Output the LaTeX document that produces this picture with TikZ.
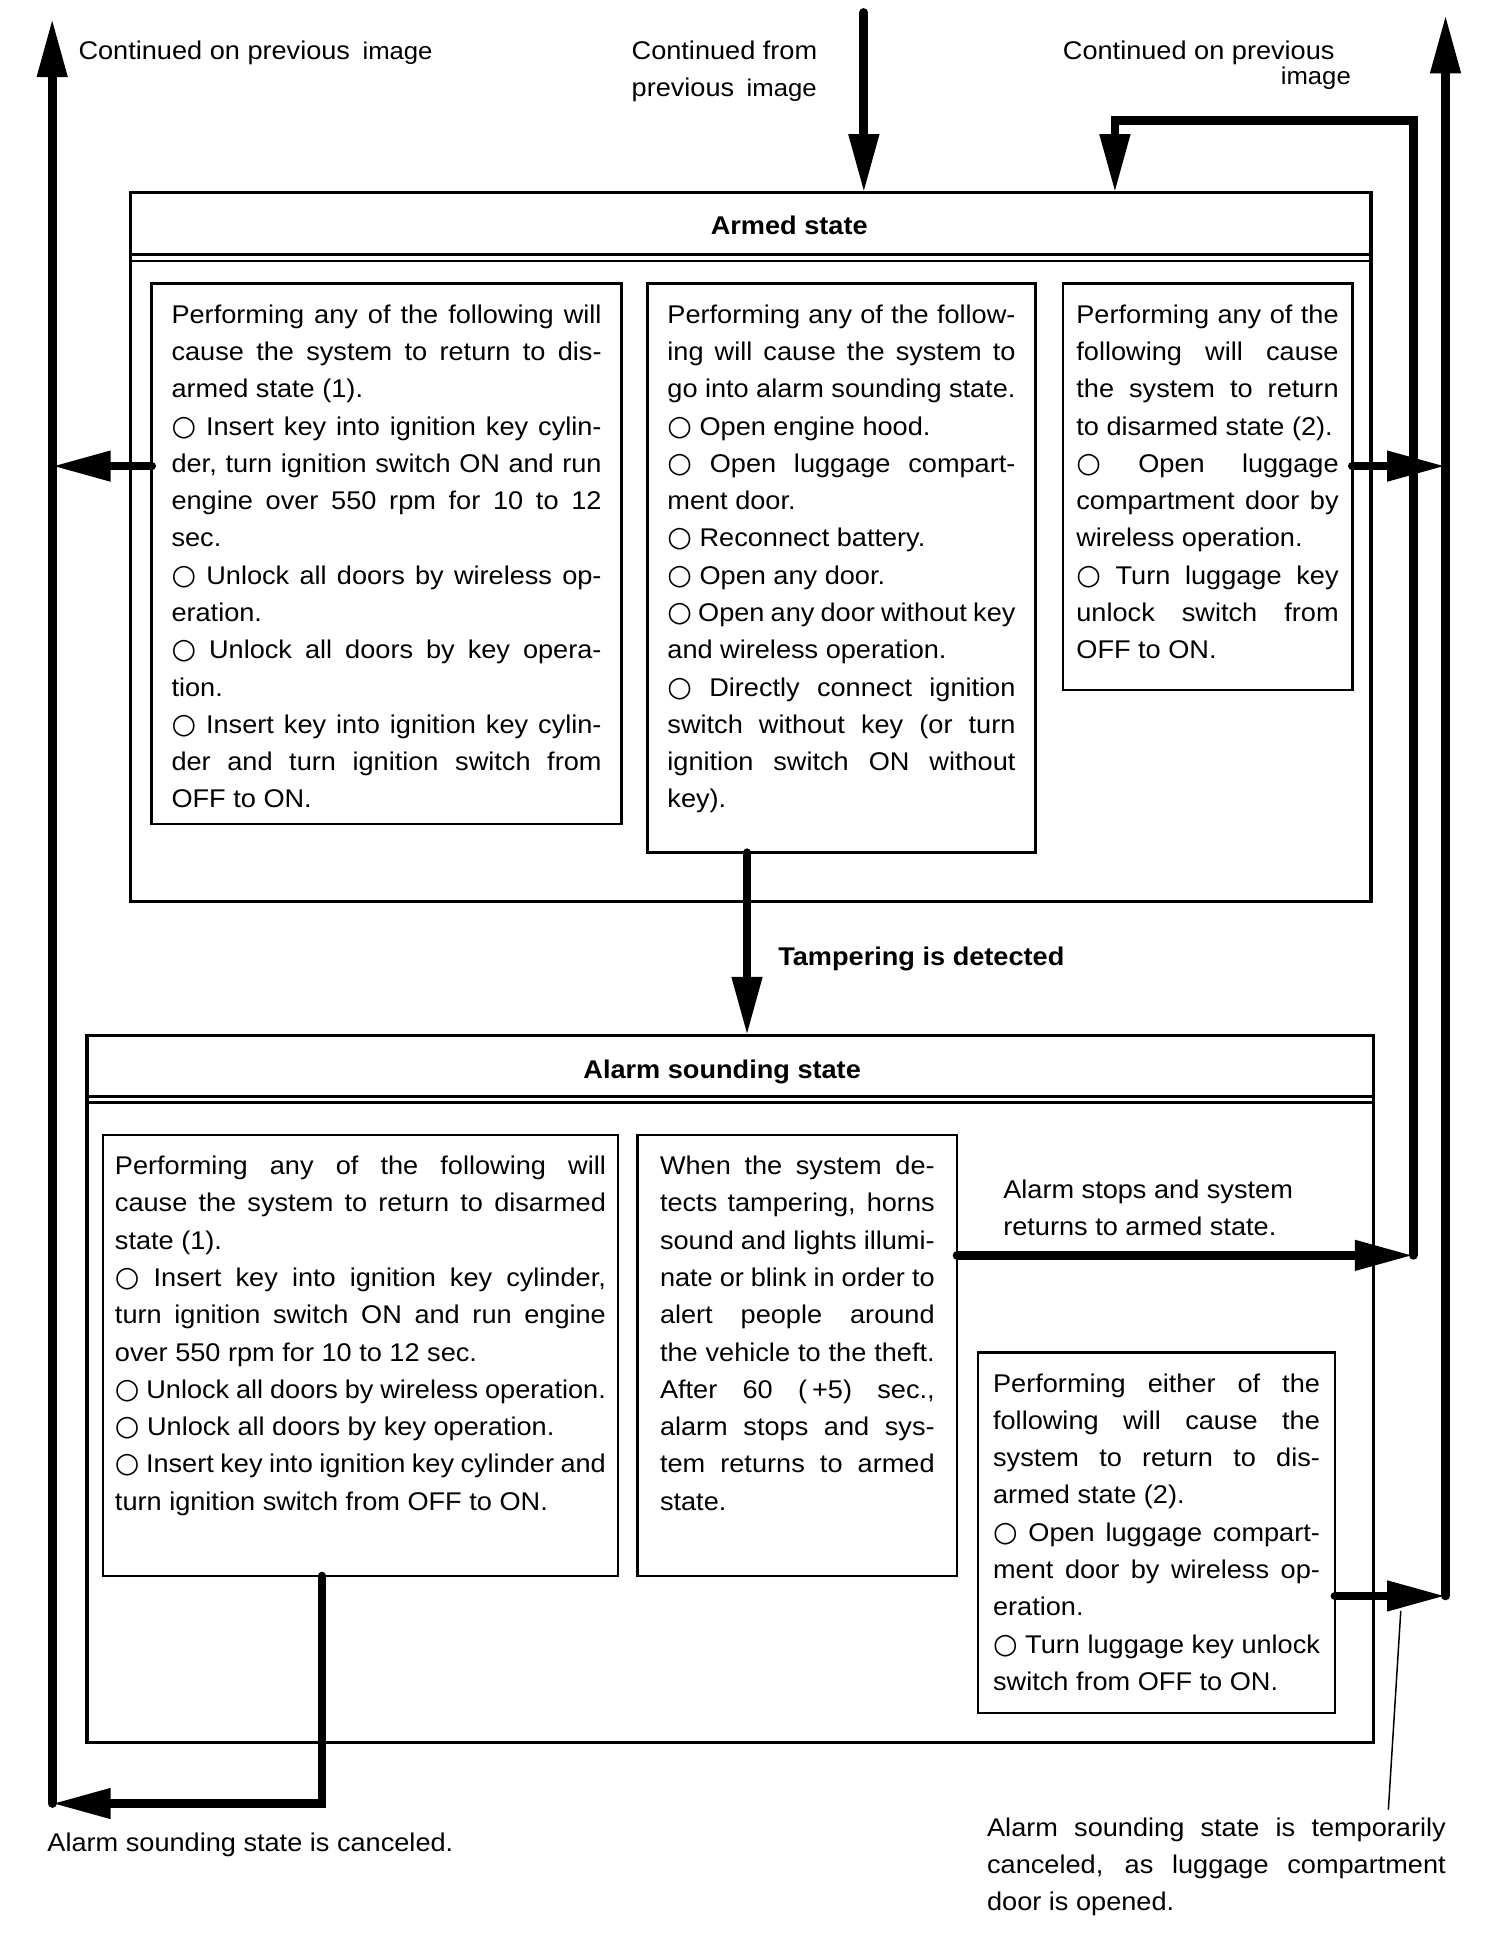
\documentclass[tikz,border=0pt]{standalone}
\usepackage{fontspec}
\setmainfont{Liberation Sans}[FakeStretch=1.06]
\newfontfamily\ringfont{DejaVu Sans}[Scale=1.1]
\usetikzlibrary{arrows.meta}

\newcommand{\bodyfont}{\fontsize{20.6}{30}\selectfont}
\newcommand{\smallfont}{\fontsize{19.5}{20}\selectfont}
\newcommand{\circmark}{{\ringfont ○}}
\newcommand{\boxpara}[3]{\begin{minipage}[t][#2pt][t]{#1pt}\strut#3\end{minipage}}
\tolerance=10000 \hyphenpenalty=10000 \hbadness=10000 \vbadness=10000
\hfuzz=20pt \vfuzz=40pt

\tikzset{
  panel/.style={draw, line width=2.6pt, anchor=north west, inner sep=0pt, outer sep=0pt},
  cellbox/.style={draw, line width=1.9pt, anchor=north west, inner ysep=11pt, outer sep=0pt},
  flow/.style={line width=7pt, line cap=round, -{Triangle[length=47pt,width=23pt]}},
  leader/.style={line width=1.2pt},
  note/.style={inner sep=0pt, anchor=base west}
}

\begin{document}
\begin{tikzpicture}[x=1pt, y=-1pt, font=\bodyfont]
          \useasboundingbox (0,0) rectangle (1210,1556);

          % armed state
          \node[panel, minimum width=998pt, minimum height=570pt] (armed) at (105,155) {};
          \node[anchor=base, font=\bodyfont\bfseries] (armedT) at (635,189) {Armed state};
          \draw[line width=2.2pt] (armed.west |- 0,205) -- (armed.east |- 0,205);
          \draw[line width=2.2pt] (armed.west |- 0,210) -- (armed.east |- 0,210);

          \node[cellbox, inner xsep=16pt] (armL) at (122,228) {\boxpara{346}{413}{%
            Performing any of the following will\linebreak cause the system to return to dis-\linebreak armed state (1).\par
            \circmark\ Insert key into ignition key cylin-\linebreak der, turn ignition switch ON and run\linebreak engine over 550 rpm for 10 to 12\linebreak sec.\par
            \circmark\ Unlock all doors by wireless op-\linebreak eration.\par
            \circmark\ Unlock all doors by key opera-\linebreak tion.\par
            \circmark\ Insert key into ignition key cylin-\linebreak der and turn ignition switch from\linebreak OFF to ON.}};

          \node[cellbox, inner xsep=16pt] (armM) at (521,228) {\boxpara{280}{436}{%
            Performing any of the follow-\linebreak ing will cause the system to\linebreak go into alarm sounding state.\par
            \circmark\ Open engine hood.\par
            \circmark\ Open luggage compart-\linebreak ment door.\par
            \circmark\ Reconnect battery.\par
            \circmark\ Open any door.\par
            \circmark\ Open any door without key\linebreak and wireless operation.\par
            \circmark\ Directly connect ignition\linebreak switch without key (or turn\linebreak ignition switch ON without\linebreak key).}};

          \node[cellbox, inner xsep=11pt] (armR) at (855,228) {\boxpara{211}{305}{%
            Performing any of the\linebreak following will cause\linebreak the system to return\linebreak to disarmed state (2).\par
            \circmark\ Open luggage\linebreak compartment door by\linebreak wireless operation.\par
            \circmark\ Turn luggage key\linebreak unlock switch from\linebreak OFF to ON.}};

          % alarm sounding state
          \node[panel, minimum width=1035pt, minimum height=569pt] (alarm) at (70,833) {};
          \node[anchor=base, font=\bodyfont\bfseries] (alarmT) at (581,868) {Alarm sounding state};
          \draw[line width=2.2pt] (alarm.west |- 0,882) -- (alarm.east |- 0,882);
          \draw[line width=2.2pt] (alarm.west |- 0,887) -- (alarm.east |- 0,887);

          \node[cellbox, inner xsep=9.5pt] (almL) at (83,913) {\boxpara{395}{333}{%
            Performing any of the following will\linebreak cause the system to return to disarmed\linebreak state (1).\par
            \circmark\ Insert key into ignition key cylinder,\linebreak turn ignition switch ON and run engine\linebreak over 550 rpm for 10 to 12 sec.\par
            \circmark\ Unlock all doors by wireless operation.\par
            \circmark\ Unlock all doors by key operation.\par
            \circmark\ Insert key into ignition key cylinder and\linebreak turn ignition switch from OFF to ON.}};

          \node[cellbox, inner xsep=18pt] (almM) at (513,913) {\boxpara{221}{333}{%
            When the system de-\linebreak tects tampering, horns\linebreak sound and lights illumi-\linebreak nate or blink in order to\linebreak alert people around\linebreak the vehicle to the theft.\linebreak After 60 (\hspace{4pt}+5) sec.,\linebreak alarm stops and sys-\linebreak tem returns to armed\linebreak state.}};

          \node[cellbox, inner xsep=12pt] (almR) at (787,1088) {\boxpara{263}{268}{%
            Performing either of the\linebreak following will cause the\linebreak system to return to dis-\linebreak armed state (2).\par
            \circmark\ Open luggage compart-\linebreak ment door by wireless op-\linebreak eration.\par
            \circmark\ Turn luggage key unlock\linebreak switch from OFF to ON.}};

          % texts outside the boxes
          \node[note] (contL) at (63,48) {Continued on previous\hspace{10pt}{\smallfont image}};
          \node[note] (contM) at (508,48) {Continued from};
          \node[note] (contM2) at (508,78) {previous\hspace{10pt}{\smallfont image}};
          \node[note] (contR) at (855,48) {Continued on previous};
          \node[note, anchor=base east, font=\smallfont] (contR2) at (1087,68) {image};
          \node[note, font=\bodyfont\bfseries] (tampL) at (626,777) {Tampering is detected};
          \node[anchor=north west, inner sep=0pt] (stopL) at (807,943)
                {\begin{minipage}[t]{300pt}\raggedright\strut Alarm stops and system\\returns to armed state.\end{minipage}};
          \node[note] (cancelL) at (38,1490) {Alarm sounding state is canceled.};
          \node[anchor=north west, inner sep=0pt] (tmpL) at (794,1456)
                {\begin{minipage}[t]{369pt}\strut Alarm sounding state is temporarily\linebreak canceled, as luggage compartment\linebreak door is opened.\end{minipage}};

          % connectors
          \coordinate (inTop) at (695,10);
          \coordinate (lftTop) at (42,15);
          \coordinate (lftBot) at (42,1451);
          \coordinate (rgtTop) at (1163,12);
          \coordinate (rgtBot) at (1163,1284);
          \coordinate (loopBot) at (1137,1010);
          \coordinate (loopIn) at (897,97);
          \coordinate (sideRow) at (0,375);
          \coordinate (tampX) at (601,0);
          \coordinate (cancelX) at (259,0);
          \coordinate (leadTop) at (1127,1296);
          \coordinate (leadBot) at (1117,1456);

          \draw[flow] (inTop) -- (inTop |- armed.north);
          \draw[flow] (loopBot) |- (loopIn) -- (loopIn |- armed.north);
          \draw[flow] (armL.west |- sideRow) -- (lftTop |- sideRow);
          \draw[flow] (armR.east |- sideRow) -- (rgtTop |- sideRow);
          \draw[flow] (armM.south -| tampX) -- (tampX |- alarm.north);
          \draw[flow] (almM.east |- loopBot) -- (loopBot);
          \draw[flow] (almR.east |- rgtBot) -- (rgtBot);
          \draw[flow] (almL.south -| cancelX) |- (lftBot);
          \draw[flow] (lftBot) -- (lftTop);
          \draw[flow] (rgtBot) -- (rgtTop);
          \draw[leader] (leadTop) -- (leadBot);

\end{tikzpicture}
\end{document}
